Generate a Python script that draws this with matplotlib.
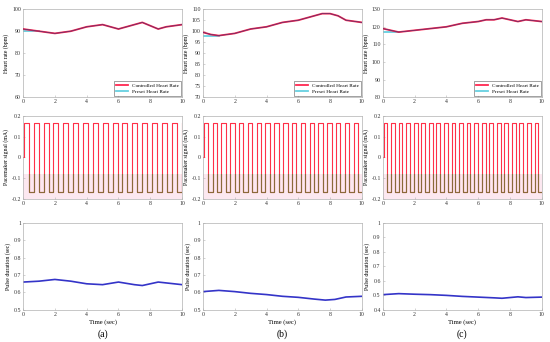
import numpy as np
import matplotlib.pyplot as plt
from matplotlib.patches import Rectangle

plt.rcParams['font.family'] = ['Liberation Serif', 'DejaVu Serif']

# heart rate data, one set per column
hr_t = [
    [0, 1, 2, 3, 4, 5, 6, 7, 7.5, 8.5, 9, 10],
    [0, 0.5, 1, 2, 3, 4, 5, 6, 7, 7.5, 8, 8.5, 9, 10],
    [0, 1, 2, 3, 4, 5, 6, 6.5, 7, 7.5, 8.5, 9, 10],
]
hr_ctrl = [
    [91, 90, 89, 90, 92, 93, 91, 93, 94, 91, 92, 93],
    [99.5, 98.5, 98, 99, 101, 102, 104, 105, 107, 108, 108, 107, 105, 104],
    [119, 117, 118, 119, 120, 122, 123, 124, 124, 125, 123, 124, 123],
]
preset_t = [[0, 1], [0, 1], [0, 1]]
preset_hr = [[90, 90], [98, 98], [117, 117]]
hr_ylim = [(60, 100), (70, 110), (80, 130)]
hr_yticks = [[60, 70, 80, 90, 100],
             [70, 75, 80, 85, 90, 95, 100, 105, 110],
             [80, 90, 100, 110, 120, 130]]

# pacemaker pulse train: first rising edge, period
pulse_start = [0.05, 0.05, 0.05]
pulse_period = [0.62, 0.555, 0.475]
pulse_amp = 0.165

# pulse duration data
pd_t = [
    [0, 1, 2, 3, 4, 5, 6, 7, 7.5, 8.5, 9, 10],
    [0, 1, 2, 3, 4, 5, 6, 7, 7.7, 8.3, 9, 10],
    [0, 1, 2, 3, 4, 5, 6, 7, 7.5, 8, 8.5, 9, 10],
]
pd_val = [
    [0.66, 0.665, 0.675, 0.665, 0.65, 0.645, 0.66, 0.645, 0.64, 0.66, 0.655, 0.645],
    [0.605, 0.612, 0.605, 0.595, 0.588, 0.578, 0.572, 0.562, 0.556, 0.56, 0.574, 0.578],
    [0.505, 0.512, 0.508, 0.505, 0.5, 0.493, 0.488, 0.483, 0.48, 0.485, 0.49, 0.485, 0.488],
]
pd_ylim = [(0.5, 1), (0.5, 1), (0.4, 1)]
panel_tags = ['(a)', '(b)', '(c)']

lefts = [0.042, 0.369, 0.696]
w = 0.289
rows = [(0.716, 0.257), (0.418, 0.243), (0.094, 0.254)]
fs = 4.2


def style(ax):
    for s in ax.spines.values():
        s.set_color('#b0b0b0')
        s.set_linewidth(0.5)
    ax.tick_params(direction='in', length=1.5, width=0.4, labelsize=fs,
                   colors='#b0b0b0', labelcolor='#333333', pad=1.5)
    ax.set_xlim(0, 10)
    ax.set_xticks([0, 2, 4, 6, 8, 10])


def square_wave(start, period):
    xs, ys = [0, start], [0, 0]
    t = start
    while t < 10:
        mid = min(t + period / 2, 10)
        xs += [t, mid]
        ys += [pulse_amp, pulse_amp]
        if mid >= 10:
            break
        end = min(t + period, 10)
        xs += [mid, end]
        ys += [-pulse_amp, -pulse_amp]
        t = t + period
    return xs, ys


fig = plt.figure(figsize=(5.5, 3.42), dpi=100)

for i in range(3):
    # heart rate
    ax = fig.add_axes([lefts[i], rows[0][0], w, rows[0][1]])
    ax.plot(preset_t[i], preset_hr[i], color='#66d0e0', lw=1.3, label='Preset Heart Rate', zorder=2)
    ax.plot(hr_t[i], hr_ctrl[i], color='#ff2850', lw=1.3, label='Controlled Heart Rate', zorder=3)
    ax.plot(hr_t[i], hr_ctrl[i], color='#6a2f6a', lw=0.6, zorder=4)
    ax.set_ylim(*hr_ylim[i])
    ax.set_yticks(hr_yticks[i])
    ax.set_ylabel('Heart rate (bpm)', fontsize=fs, labelpad=2)
    h, l = ax.get_legend_handles_labels()
    leg = ax.legend(h[::-1], l[::-1], loc='lower right', fontsize=3.8, frameon=True,
                    fancybox=False, edgecolor='#333333', handlelength=2.2,
                    borderpad=0.35, labelspacing=0.3, borderaxespad=0.2)
    leg.get_frame().set_linewidth(0.4)
    style(ax)

    # pacemaker signal
    ax = fig.add_axes([lefts[i], rows[1][0], w, rows[1][1]])
    xs, ys = square_wave(pulse_start[i], pulse_period[i])
    ax.axhspan(-0.2, -0.08, color='#fce8f0', lw=0, zorder=0)
    ax.plot(xs, ys, color='#ff3048', lw=0.8, zorder=2)
    low = ax.plot(xs, ys, color='#8a6a3a', lw=0.8, zorder=3)[0]
    low.set_clip_path(Rectangle((0, -0.2), 10, 0.12, transform=ax.transData))
    ax.set_ylim(-0.2, 0.2)
    ax.set_yticks([-0.2, -0.1, 0, 0.1, 0.2])
    ax.set_yticklabels(['-0.2', '-0.1', '0', '0.1', '0.2'])
    ax.set_ylabel('Pacemaker signal (mA)', fontsize=fs, labelpad=2)
    style(ax)

    # pulse duration
    ax = fig.add_axes([lefts[i], rows[2][0], w, rows[2][1]])
    ax.plot(pd_t[i], pd_val[i], color='#3434c8', lw=1.2)
    ax.set_ylim(*pd_ylim[i])
    ticks = np.round(np.arange(pd_ylim[i][0], 1.01, 0.1), 1)
    ax.set_yticks(ticks)
    ax.set_yticklabels([f'{v:g}' for v in ticks])
    ax.set_ylabel('Pulse duration (sec)', fontsize=fs, labelpad=2)
    ax.set_xlabel('Time (sec)', fontsize=fs + 0.6, labelpad=1.5)
    style(ax)

    fig.text(lefts[i] + w / 2, 0.008, panel_tags[i], ha='center', va='bottom', fontsize=7)

plt.savefig('out.png', dpi=100)
